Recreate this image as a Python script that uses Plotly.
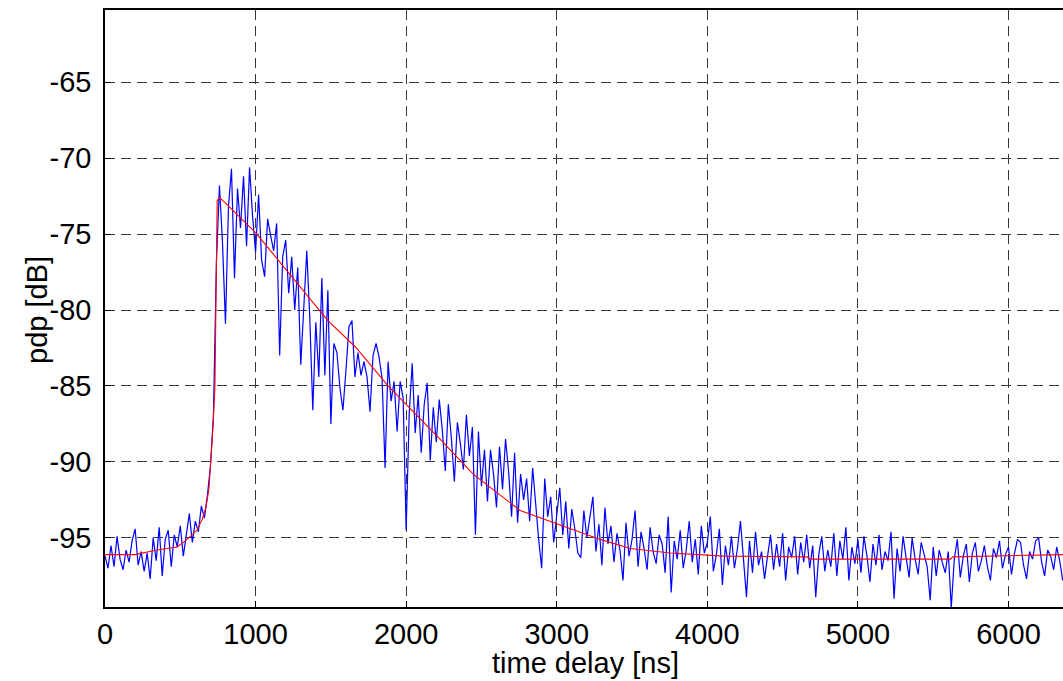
import plotly.graph_objects as go

# Measured (noisy) power delay profile, sampled every 20 ns
t_step = 20
pdp_meas = [
    -96.2, -97.0, -95.5, -96.9, -94.9, -96.4, -97.1, -95.8, -96.6, -95.2,
    -94.4, -96.8, -95.9, -97.2, -96.0, -97.7, -95.0, -96.5, -94.3, -97.5,
    -95.1, -94.5, -96.9, -94.8, -95.6, -94.2, -96.2, -94.9, -93.4, -95.3,
    -93.9, -94.6, -92.9, -93.7, -92.2, -90.3, -87.0, -76.8, -71.8, -75.5,
    -80.9, -73.2, -70.7, -77.9, -72.0, -74.6, -71.2, -75.8, -70.6, -73.8,
    -76.2, -72.4, -76.7, -77.8, -74.0, -75.1, -76.1, -74.3, -83.0, -76.5,
    -75.4, -78.9, -76.5, -80.0, -77.2, -83.6, -79.4, -76.1, -80.5, -86.6,
    -80.8, -84.4, -77.9, -84.3, -78.7, -87.5, -82.2, -82.8, -85.1, -86.6,
    -84.0, -81.1, -80.7, -84.4, -82.8, -84.3, -83.4, -84.4, -86.7, -83.0,
    -82.2, -83.1, -84.5, -90.4, -83.4, -86.0, -84.7, -88.0, -84.7, -85.8,
    -94.5, -86.9, -83.5, -88.1, -85.6, -89.4, -86.2, -84.8, -89.9, -86.4,
    -88.7, -85.9, -87.9, -90.6, -86.2, -88.4, -91.3, -87.4, -88.8, -90.5,
    -86.9, -89.6, -87.7, -94.8, -88.0, -91.6, -89.2, -92.6, -89.2, -90.8,
    -93.0, -89.0, -91.8, -88.5, -90.6, -93.6, -89.4, -94.0, -90.8, -92.5,
    -91.1, -93.9, -90.4, -92.9, -95.1, -97.0, -91.1, -93.6, -92.3, -95.3,
    -93.4, -91.7, -94.8, -92.6, -95.7, -93.1, -94.4, -96.0, -96.3, -93.2,
    -95.0, -93.8, -92.3, -95.9, -94.1, -96.8, -93.0, -95.4, -94.2, -96.6,
    -94.7, -95.8, -97.8, -94.0, -96.2, -95.1, -93.2, -96.9, -94.6, -95.7,
    -97.1, -94.3, -95.9, -96.7, -94.8, -95.4, -97.3, -93.6, -98.6, -95.2,
    -96.4, -94.5, -97.0, -95.8, -93.9, -96.6, -95.1, -97.4, -94.2, -96.0,
    -95.3, -93.6, -97.2, -96.1, -94.4, -98.1, -95.5, -96.8, -94.9, -97.0,
    -95.7, -93.9, -96.5, -98.9, -95.2, -97.3, -94.6, -96.8, -95.9, -97.7,
    -96.2, -94.8, -97.1, -95.4, -96.9, -94.7, -97.8, -95.6, -96.3, -94.9,
    -97.4, -95.3, -96.6, -94.8, -97.0, -95.5, -98.9, -96.1, -94.9, -97.2,
    -95.8, -96.9, -94.7, -97.5, -95.2, -96.4, -94.3, -97.8, -95.6, -96.7,
    -95.1, -97.3, -94.9, -96.2, -97.9, -95.4, -96.8, -94.8, -97.1, -95.9,
    -96.5, -94.6, -99.0, -95.7, -97.2, -94.9, -96.3, -97.6, -95.0, -96.4,
    -97.4, -95.3, -96.1, -96.9, -99.1, -95.6, -97.5, -95.8, -96.6, -97.3,
    -95.9, -99.6, -96.4, -95.1, -97.6, -96.2, -95.4, -97.9, -96.0, -95.3,
    -97.2, -96.5, -95.5, -96.9, -97.8, -95.7, -96.3, -95.2, -97.0, -96.1,
    -95.6, -97.4, -96.0, -95.1, -95.3, -96.8, -97.7, -95.9, -96.4, -95.2,
    -95.0, -96.6, -97.5, -95.8, -96.2, -97.1, -95.6, -96.5, -97.8,
]
t_meas = [i * t_step for i in range(len(pdp_meas))]

# Smoothed / fitted profile
t_fit = [0, 200, 345, 480, 545, 610, 645, 670, 690, 700, 715, 730, 742, 745,
         760, 793, 1000, 1260, 1480, 1660, 1880, 2225, 2445, 2757, 3003, 3289,
         3488, 3754, 4107, 4664, 4680, 5615, 5630, 6365]
pdp_fit = [-96.1, -96.1, -95.8, -95.6, -95.1, -94.5, -93.8, -93.0, -91.8,
           -90.5, -88.0, -85.1, -76.0, -72.8, -72.6, -72.9, -74.9, -78.0,
           -80.7, -82.4, -85.0, -88.5, -90.8, -93.2, -94.1, -95.1, -95.7,
           -96.0, -96.2, -96.25, -96.4, -96.4, -96.25, -96.1]

x_ticks = [0, 1000, 2000, 3000, 4000, 5000, 6000]
y_ticks = [-95, -90, -85, -80, -75, -70, -65]
x_label = "time delay [ns]"
y_label = "pdp [dB]"

fig = go.Figure()
fig.add_trace(go.Scatter(x=t_meas, y=pdp_meas, mode="lines",
                         line=dict(color="#0000FF", width=1.2),
                         showlegend=False))
fig.add_trace(go.Scatter(x=t_fit, y=pdp_fit, mode="lines",
                         line=dict(color="#FF0000", width=1.1),
                         showlegend=False))

font = dict(family="Liberation Sans, Arial, sans-serif", size=29, color="#000000")
axis_common = dict(
    showline=True, linecolor="#000000", linewidth=1.5,
    showgrid=True, gridcolor="#3a3a3a", griddash="10px,6px", gridwidth=1,
    zeroline=False, ticks="inside", ticklen=6, tickcolor="#000000",
    tickfont=font, automargin=False,
)
fig.update_xaxes(range=[0, 6362], tickvals=x_ticks,
                 ticktext=[str(v) for v in x_ticks], mirror=True,
                 ticklabelstandoff=0, **axis_common)
fig.update_yaxes(range=[-99.55, -60.25], tickvals=y_ticks,
                 ticktext=[str(v) for v in y_ticks],
                 ticklabelstandoff=6, **axis_common)
fig.add_annotation(text=x_label, xref="paper", yref="paper",
                   x=0.502, y=-0.094, showarrow=False, font=font,
                   xanchor="center", yanchor="middle")
fig.add_annotation(text=y_label, xref="paper", yref="paper",
                   x=-0.071, y=0.4975, showarrow=False, font=font,
                   textangle=-90, xanchor="center", yanchor="middle")
fig.update_layout(width=1063, height=681,
                  margin=dict(l=105, r=0, t=10, b=74, pad=0),
                  paper_bgcolor="white", plot_bgcolor="white",
                  font=font)
fig.write_html("out.html", config={"displayModeBar": False},
               post_script="document.body.style.margin='0';"
                           "document.body.style.overflow='hidden';")
